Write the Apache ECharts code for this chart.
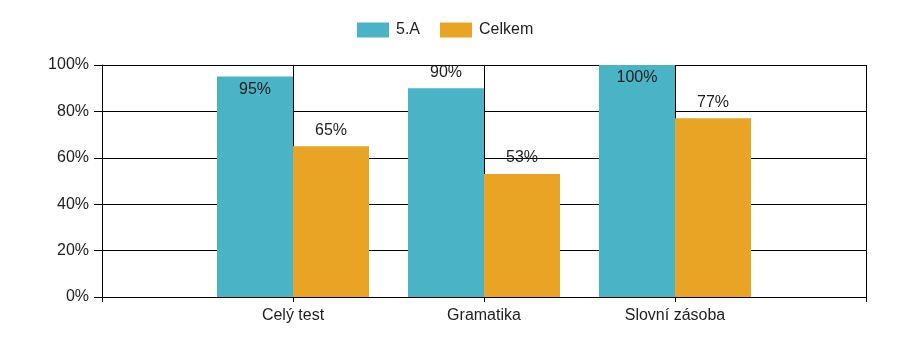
<!DOCTYPE html>
<html>
<head>
<meta charset="utf-8">
<script src="https://cdn.jsdelivr.net/npm/echarts@6/dist/echarts.min.js"></script>
<style>html,body{margin:0;padding:0;background:#fff}#c{width:900px;height:341px}</style>
</head>
<body>
<div id="c"></div>
<script>
const categories = ['', 'Celý test', 'Gramatika', 'Slovní zásoba', ''];
const seriesNames = ['5.A', 'Celkem'];
const valuesA = [null, 95, 90, 100, null];
const valuesCelkem = [null, 65, 53, 77, null];
const yTicks = [0, 20, 40, 60, 80, 100];

const FONT = '"Liberation Sans", Arial, sans-serif';
const TXT = '#1e1e1e';

function items(vals) {
  return vals.map(v => v == null ? null : {
    value: v,
    label: v > 92 ? { position: 'insideTop', distance: 5 } : { position: 'top', distance: 8 }
  });
}

const chart = echarts.init(document.getElementById('c'), null, { renderer: 'canvas' });
chart.setOption({
  animation: false,
  textStyle: { fontFamily: FONT },
  legend: {
    top: 17, left: 352,
    itemWidth: 32, itemHeight: 15, itemGap: 20,
    icon: 'rect',
    textStyle: { fontSize: 16, color: TXT, fontFamily: FONT, padding: [0, 0, 0, 2] },
    data: seriesNames
  },
  grid: { left: 102, right: 34, top: 65, bottom: 44, containLabel: false },
  xAxis: {
    type: 'category',
    data: categories,
    boundaryGap: false,
    axisLine: { lineStyle: { color: '#000', width: 1 } },
    axisTick: { show: true, length: 5, interval: 0, lineStyle: { color: '#000' } },
    axisLabel: { interval: 0, margin: 11, fontSize: 16, color: TXT, fontFamily: FONT },
    splitLine: { show: true, interval: 0, lineStyle: { color: '#000', width: 1 } }
  },
  yAxis: {
    type: 'value',
    min: yTicks[0], max: yTicks[yTicks.length - 1], interval: 20,
    axisLine: { show: true, lineStyle: { color: '#000', width: 1 } },
    axisTick: { show: true, length: 8, lineStyle: { color: '#000' } },
    axisLabel: { formatter: '{value}%', margin: 13, fontSize: 16, color: TXT, fontFamily: FONT },
    splitLine: { show: true, lineStyle: { color: '#000', width: 1 } }
  },
  series: [
    {
      name: seriesNames[0], type: 'bar', barWidth: 76, barGap: '0%',
      itemStyle: { color: '#4AB3C5' },
      label: { show: true, formatter: '{c}%', fontSize: 16, color: TXT, fontFamily: FONT },
      data: items(valuesA)
    },
    {
      name: seriesNames[1], type: 'bar', barWidth: 76, barGap: '0%',
      itemStyle: { color: '#EAA425' },
      label: { show: true, formatter: '{c}%', fontSize: 16, color: TXT, fontFamily: FONT },
      data: items(valuesCelkem)
    }
  ]
});
</script>
</body>
</html>
